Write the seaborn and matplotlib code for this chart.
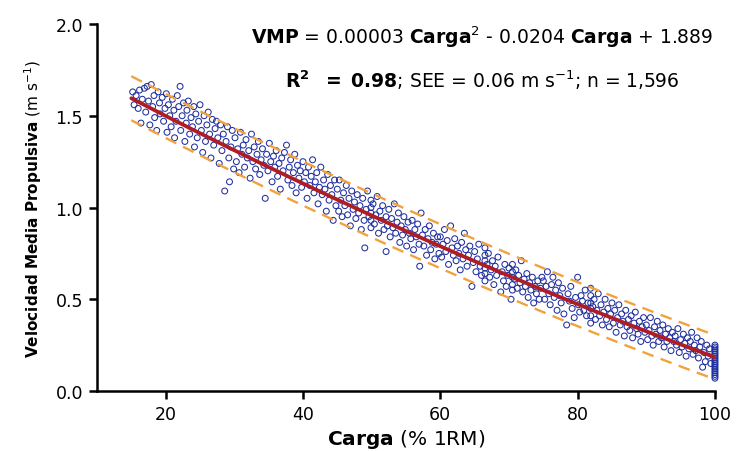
import numpy as np
import pandas as pd
import seaborn as sns
import matplotlib.pyplot as plt

# ==============================================================================
# VELOCIDAD MEDIA PROPULSIVA vs CARGA (% 1RM)
# ==============================================================================

# --- data (load %1RM, mean propulsive velocity m/s) ---
seg1_load = [15.2, 15.4, 15.7, 16.0, 16.2, 16.4, 16.6, 16.9, 17.1, 17.3, 17.5, 17.7, 17.9, 18.1, 18.3,
             18.4, 18.7, 18.9, 19.1, 19.2, 19.5, 19.7, 19.9, 20.1, 20.2, 20.4, 20.6, 20.8, 21.0, 21.2,
             21.3, 21.5, 21.7, 21.9, 22.1, 22.2, 22.4, 22.6, 22.8, 23.0, 23.1, 23.3, 23.5, 23.7, 23.9,
             24.1, 24.2, 24.4, 24.6, 24.8, 25.0, 25.2, 25.4, 25.6, 25.8, 26.0, 26.2, 26.4, 26.6, 26.8,
             27.0, 27.2, 27.4, 27.6, 27.8, 28.0, 28.2, 28.4, 28.6, 28.8, 29.0, 29.2, 29.3, 29.5, 29.7, 29.9]
seg1_vel = [1.63, 1.56, 1.61, 1.54, 1.64, 1.46, 1.59, 1.65, 1.52, 1.66, 1.58, 1.45, 1.67, 1.55, 1.61,
            1.49, 1.42, 1.63, 1.57, 1.51, 1.60, 1.47, 1.54, 1.62, 1.41, 1.56, 1.50, 1.44, 1.59, 1.53,
            1.38, 1.47, 1.61, 1.55, 1.66, 1.42, 1.50, 1.57, 1.36, 1.46, 1.53, 1.58, 1.40, 1.49, 1.44,
            1.55, 1.33, 1.51, 1.38, 1.47, 1.56, 1.42, 1.30, 1.50, 1.36, 1.45, 1.52, 1.40, 1.27, 1.48,
            1.34, 1.43, 1.47, 1.38, 1.24, 1.45, 1.31, 1.40, 1.09, 1.36, 1.44, 1.27, 1.14, 1.33, 1.42, 1.21]

seg2_load = [30.1, 30.3, 30.5, 30.7, 30.9, 31.1, 31.3, 31.5, 31.7, 31.9, 32.1, 32.3, 32.5, 32.7, 32.9,
             33.1, 33.3, 33.5, 33.7, 33.9, 34.1, 34.3, 34.5, 34.7, 34.9, 35.1, 35.3, 35.5, 35.7, 35.9,
             36.1, 36.3, 36.5, 36.7, 36.9, 37.1, 37.3, 37.6, 37.8, 38.0, 38.2, 38.4, 38.6, 38.8, 39.0,
             39.2, 39.4, 39.6, 39.8, 40.0, 40.2, 40.4, 40.6, 40.8, 41.0, 41.2, 41.4, 41.6, 41.8, 42.0,
             42.2, 42.4, 42.6, 42.8, 43.0, 43.2, 43.4, 43.6, 43.8, 44.0, 44.2, 44.4, 44.6, 44.8]
seg2_vel = [1.38, 1.25, 1.32, 1.19, 1.41, 1.29, 1.34, 1.22, 1.37, 1.27, 1.31, 1.16, 1.40, 1.25, 1.33,
            1.21, 1.29, 1.36, 1.18, 1.26, 1.32, 1.23, 1.05, 1.29, 1.20, 1.35, 1.25, 1.14, 1.28, 1.22,
            1.31, 1.17, 1.24, 1.10, 1.27, 1.20, 1.30, 1.34, 1.15, 1.22, 1.26, 1.12, 1.19, 1.29, 1.08,
            1.23, 1.16, 1.20, 1.11, 1.25, 1.14, 1.19, 1.05, 1.22, 1.12, 1.17, 1.26, 1.08, 1.14, 1.19,
            1.02, 1.11, 1.22, 1.07, 1.15, 1.10, 0.98, 1.18, 1.04, 1.12, 1.07, 0.93, 1.15, 1.01]

seg3_load = [45.0, 45.2, 45.3, 45.5, 45.7, 45.9, 46.1, 46.3, 46.5, 46.7, 46.9, 47.1, 47.3, 47.5, 47.7,
             47.9, 48.1, 48.3, 48.5, 48.7, 48.9, 49.0, 49.2, 49.4, 49.6, 49.9, 49.9, 49.9, 49.9, 49.9,
             50.2, 50.4, 50.6, 50.8, 51.0, 51.2, 51.4, 51.6, 51.8, 52.1, 52.1, 52.3, 52.5, 52.7, 52.9,
             53.1, 53.3, 53.5, 53.7, 53.9, 54.1, 54.3, 54.5, 54.7, 54.9, 55.1, 55.3, 55.5, 55.7, 55.9,
             56.1, 56.3, 56.5, 56.7, 56.9, 57.0, 57.2, 57.4, 57.6, 57.8, 58.0, 58.2, 58.4, 58.6, 58.8,
             59.0, 59.2, 59.4, 59.6, 59.8]
seg3_vel = [1.10, 0.98, 1.15, 1.04, 0.95, 1.08, 1.01, 1.12, 0.96, 1.05, 0.90, 1.09, 0.99, 1.03, 0.94,
            1.07, 0.97, 1.01, 0.88, 1.05, 0.93, 0.78, 0.99, 1.09, 0.95, 1.04, 1.00, 0.97, 0.93, 0.89,
            1.02, 0.91, 0.96, 1.06, 0.86, 0.98, 0.93, 1.01, 0.88, 0.76, 0.95, 0.90, 0.99, 0.84, 0.94,
            0.89, 1.02, 0.86, 0.92, 0.97, 0.81, 0.90, 0.85, 0.95, 0.88, 0.79, 0.92, 0.86, 0.83, 0.93,
            0.77, 0.88, 0.84, 0.91, 0.80, 0.68, 0.97, 0.85, 0.79, 0.88, 0.74, 0.83, 0.90, 0.77, 0.81,
            0.86, 0.72, 0.80, 0.84, 0.75]

seg4_load = [60.0, 60.2, 60.4, 60.6, 60.8, 61.0, 61.2, 61.5, 61.7, 61.9, 62.1, 62.3, 62.5, 62.7, 62.9,
             63.1, 63.3, 63.5, 63.7, 63.9, 64.1, 64.3, 64.6, 64.8, 65.0, 65.2, 65.4, 65.6, 65.8, 66.0,
             66.5, 66.5, 66.5, 66.5, 66.5, 66.5, 66.8, 67.0, 67.2, 67.4, 67.6, 67.8, 68.0, 68.2, 68.4,
             68.8, 69.0, 69.2, 69.4, 69.6, 69.8, 70.0, 70.3, 70.5, 70.5, 70.5, 70.5, 70.5, 70.8, 71.0,
             71.2, 71.4, 71.6, 71.8, 72.0, 72.2, 72.4, 72.6, 72.8, 73.0, 73.2, 73.4, 73.6, 73.8, 74.0,
             74.2, 74.4, 74.6, 74.8]
seg4_vel = [0.84, 0.73, 0.80, 0.88, 0.76, 0.82, 0.69, 0.90, 0.78, 0.74, 0.83, 0.71, 0.79, 0.75, 0.66,
            0.81, 0.72, 0.86, 0.77, 0.68, 0.74, 0.79, 0.57, 0.70, 0.76, 0.65, 0.72, 0.80, 0.68, 0.63,
            0.78, 0.74, 0.71, 0.67, 0.64, 0.60, 0.69, 0.75, 0.62, 0.66, 0.71, 0.58, 0.68, 0.63, 0.73,
            0.54, 0.65, 0.60, 0.69, 0.57, 0.63, 0.67, 0.50, 0.69, 0.65, 0.62, 0.58, 0.55, 0.61, 0.66,
            0.56, 0.63, 0.59, 0.71, 0.54, 0.61, 0.57, 0.64, 0.51, 0.59, 0.55, 0.62, 0.48, 0.57, 0.53,
            0.60, 0.50, 0.56, 0.62]

seg5_load = [75.0, 75.2, 75.4, 75.6, 75.8, 76.0, 76.2, 76.4, 76.6, 76.8, 77.0, 77.2, 77.4, 77.6, 77.8,
             78.0, 78.4, 78.6, 78.8, 79.0, 79.2, 79.5, 79.7, 80.0, 80.1, 80.3, 80.5, 80.7, 80.9, 81.1,
             81.3, 81.5, 81.9, 81.9, 81.9, 81.9, 81.9, 81.9, 82.2, 82.4, 82.6, 82.8, 83.0, 83.2, 83.4,
             83.6, 83.8, 84.0, 84.2, 84.4, 84.6, 84.8, 85.0, 85.2, 85.4, 85.6, 85.8, 86.0, 86.2, 86.4,
             86.6, 86.8, 87.0, 87.2, 87.4, 87.6, 87.8, 88.0, 88.2, 88.4, 88.6, 88.8, 89.0, 89.2, 89.4,
             89.6, 89.8]
seg5_vel = [0.60, 0.50, 0.57, 0.65, 0.53, 0.47, 0.58, 0.62, 0.51, 0.55, 0.44, 0.59, 0.52, 0.48, 0.56,
            0.42, 0.36, 0.53, 0.49, 0.57, 0.45, 0.40, 0.51, 0.62, 0.47, 0.43, 0.52, 0.49, 0.44, 0.55,
            0.41, 0.48, 0.56, 0.52, 0.48, 0.45, 0.41, 0.37, 0.46, 0.50, 0.39, 0.44, 0.53, 0.41, 0.47,
            0.36, 0.43, 0.50, 0.39, 0.45, 0.35, 0.42, 0.48, 0.37, 0.44, 0.32, 0.40, 0.47, 0.36, 0.42,
            0.38, 0.30, 0.44, 0.35, 0.39, 0.33, 0.41, 0.29, 0.37, 0.43, 0.34, 0.31, 0.38, 0.27, 0.35,
            0.40, 0.32]

seg6_load = [90.0, 90.2, 90.4, 90.6, 90.8, 91.0, 91.2, 91.4, 91.6, 91.8, 92.0, 92.2, 92.4, 92.6, 92.8,
             93.0, 93.2, 93.4, 93.6, 93.8, 94.0, 94.2, 94.4, 94.6, 94.8, 95.0, 95.2, 95.4, 95.6, 95.8,
             96.0, 96.2, 96.4, 96.6, 96.8, 97.0, 97.2, 97.4, 97.6, 97.8, 98.0, 98.2, 98.4, 98.6, 98.8,
             99.0, 99.2, 99.4]
seg6_vel = [0.36, 0.28, 0.33, 0.40, 0.30, 0.25, 0.35, 0.31, 0.38, 0.27, 0.33, 0.29, 0.36, 0.24, 0.31,
            0.27, 0.34, 0.29, 0.22, 0.32, 0.27, 0.30, 0.25, 0.34, 0.21, 0.28, 0.24, 0.31, 0.26, 0.19,
            0.29, 0.23, 0.27, 0.32, 0.20, 0.25, 0.22, 0.29, 0.18, 0.24, 0.27, 0.13, 0.21, 0.16, 0.25,
            0.19, 0.23, 0.15]

# all the 1RM attempts stack up at 100 %
rm_vel = [0.25, 0.24, 0.23, 0.22, 0.21, 0.20, 0.19, 0.18, 0.17, 0.16, 0.15, 0.14, 0.13, 0.12,
          0.11, 0.10, 0.09, 0.08, 0.07]

# quadratic fit as drawn (slightly different from the rounded printed one) and +/- band
fit_coef = [0.000033, -0.0204, 1.894]
band_half = 0.12

x_ticks = [20, 40, 60, 80, 100]
y_ticks = [0.0, 0.5, 1.0, 1.5, 2.0]

# ------------------------------------------------------------------------------
df = pd.DataFrame({
    'load': seg1_load + seg2_load + seg3_load + seg4_load + seg5_load + seg6_load + [100] * len(rm_vel),
    'vel': seg1_vel + seg2_vel + seg3_vel + seg4_vel + seg5_vel + seg6_vel + rm_vel,
})

grid = np.linspace(15, 100, 200)
fit = np.polyval(fit_coef, grid)

sns.set_style('ticks', {'axes.edgecolor': 'black', 'text.color': 'black',
                        'xtick.color': 'black', 'ytick.color': 'black',
                        'axes.labelcolor': 'black'})
plt.rcParams['font.family'] = ['DejaVu Sans']
plt.rcParams['mathtext.fontset'] = 'dejavusans'

fig = plt.figure(figsize=(7.37, 4.52), dpi=100)
ax = fig.add_axes([0.1316, 0.1327, 0.8385, 0.812])

sns.scatterplot(data=df, x='load', y='vel', ax=ax, marker='o', s=18,
                facecolors='none', edgecolor='#1f2f9f', linewidth=0.75, clip_on=False, zorder=2)
sns.lineplot(x=grid, y=fit + band_half, ax=ax, color='#f2a23c', lw=1.7,
             linestyle=(0, (5, 3.2)), zorder=3)
sns.lineplot(x=grid, y=fit - band_half, ax=ax, color='#f2a23c', lw=1.7,
             linestyle=(0, (5, 3.2)), zorder=3)
sns.lineplot(x=grid, y=fit, ax=ax, color='#b01c24', lw=2.7, zorder=4)

ax.set_xlim(10, 100)
ax.set_ylim(0, 2.0)
ax.set_xticks(x_ticks)
ax.set_yticks(y_ticks)
ax.set_yticklabels([f'{v:.1f}' for v in y_ticks])
sns.despine(ax=ax)
for s in ['left', 'bottom']:
    ax.spines[s].set_linewidth(1.8)
ax.tick_params(direction='out', length=6, width=1.8, labelsize=12.5, pad=4)

ax.set_xlabel(r'$\mathbf{Carga}$ (% 1RM)', fontsize=14.5, labelpad=3)
ax.set_ylabel(r'$\mathbf{Velocidad\ Media\ Propulsiva}$ (m s$^{-1}$)', fontsize=11, labelpad=8)

ax.text(0.623, 0.967, r'$\mathbf{VMP}$ = 0.00003 $\mathbf{Carga}^{2}$ - 0.0204 $\mathbf{Carga}$ + 1.889',
        transform=ax.transAxes, ha='center', va='center', fontsize=13.5)
ax.text(0.623, 0.850, r'$\mathbf{R^{2}\ \ =\ 0.98}$; SEE = 0.06 m s$^{-1}$; n = 1,596',
        transform=ax.transAxes, ha='center', va='center', fontsize=13.5)

plt.savefig('out.png', dpi=100)
